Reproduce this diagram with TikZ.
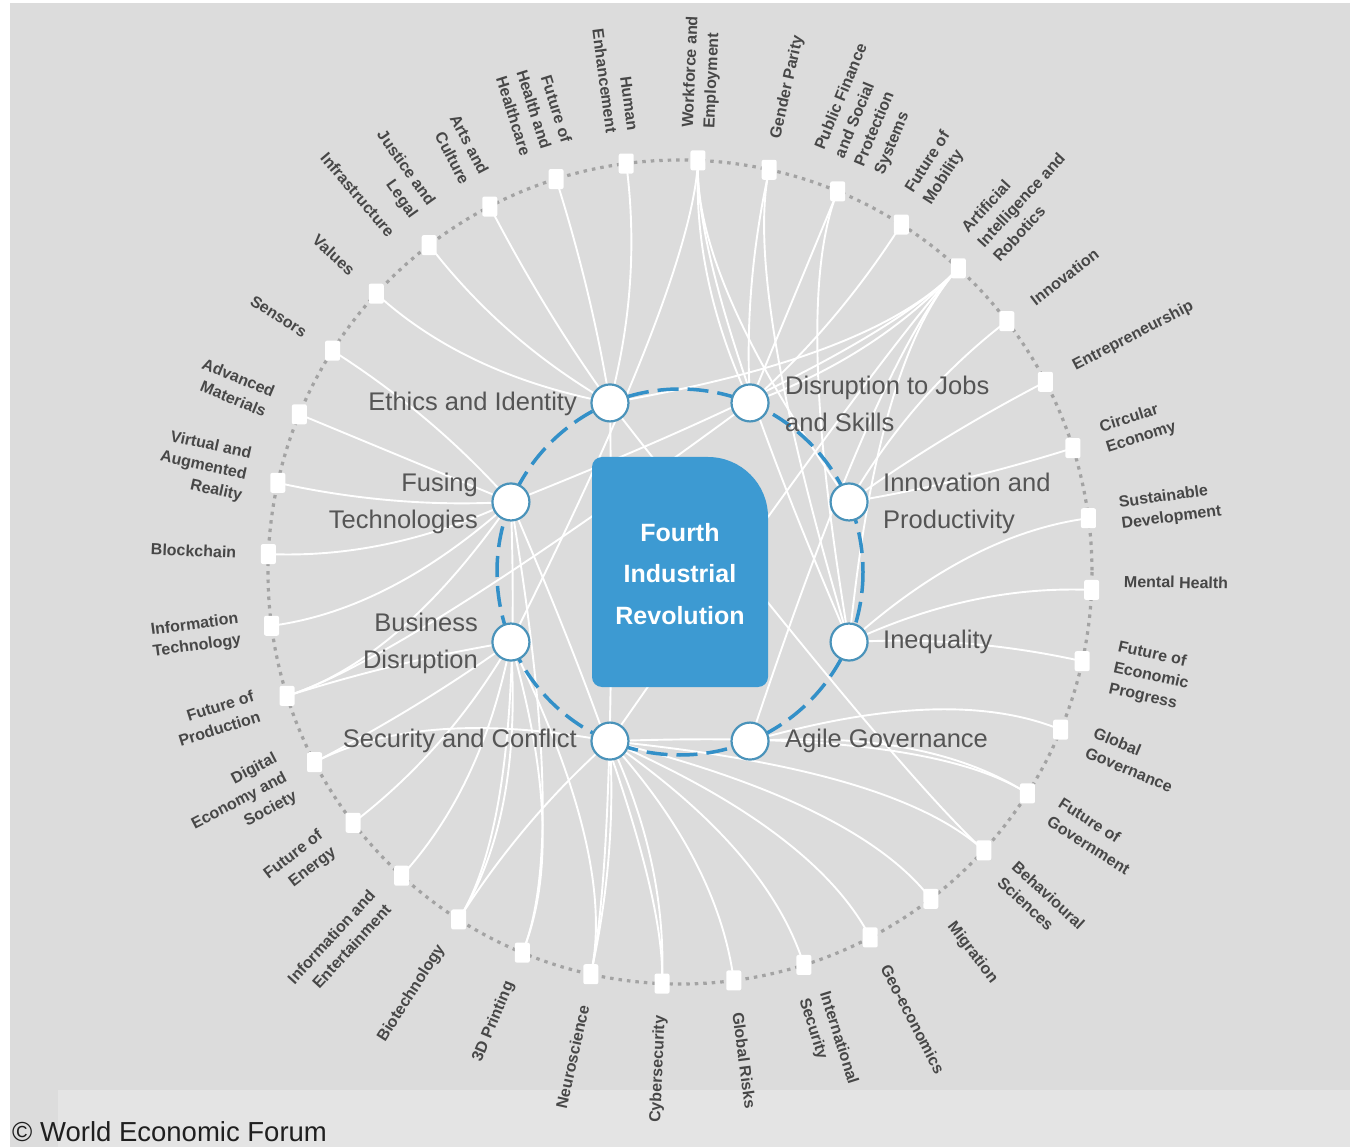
\documentclass[tikz,border=0pt]{standalone}
\usepackage{fontspec}
\setmainfont{Liberation Sans}
\usetikzlibrary{calc}
\definecolor{bggray}{HTML}{DCDCDC}
\definecolor{bandgray}{HTML}{E4E4E4}
\definecolor{dotgray}{HTML}{A3A3A3}
\definecolor{ringblue}{HTML}{3390C8}
\definecolor{hubedge}{HTML}{4A93BA}
\definecolor{boxblue}{HTML}{3D9AD2}
\definecolor{labgray}{HTML}{555555}
\definecolor{toptext}{HTML}{474747}
\pgfdeclarelayer{bg}
\pgfdeclarelayer{links}
\pgfsetlayers{bg,links,main}
\tikzset{
  hub/.style={circle, draw=hubedge, line width=2.2pt, fill=white, minimum size=37pt, inner sep=0pt},
  topic/.style={rectangle, rounded corners=2pt, fill=white, minimum width=15pt, minimum height=20pt, inner sep=0pt},
  toplabel/.style={font=\fontsize{16}{21.5}\selectfont\bfseries, text=toptext, inner sep=0pt},
  hublabel/.style={font=\fontsize{25.5}{37}\selectfont, text=labgray, inner sep=0pt},
  conn/.style={white, line width=1.9pt},
}
\begin{document}
\begin{tikzpicture}[x=1pt,y=-1pt]
\useasboundingbox (0,0) rectangle (1350,1147);
\coordinate (C) at (680,572);
\begin{pgfonlayer}{bg}
  \fill[white] (0,0) rectangle (1350,1147);
  \fill[bggray] (10,3) rectangle (1350,1147);
  \fill[bandgray] (58,1090) rectangle (1350,1147);
  \draw[dotgray, line width=3.2pt, dash pattern=on 3.5pt off 5pt] (C) circle[radius=412];
\end{pgfonlayer}

% outer topic nodes
\foreach \k in {0,...,35}{
  \pgfmathsetmacro{\ang}{2.5+10*\k}
  \node[topic] (o\k) at ({680+412*sin(\ang)},{572-412*cos(\ang)}) {};
}

% outer labels
\foreach \ang/\nm/\lab in {
  2.5/0/{Workforce and\\Employment},
  12.5/1/{Gender Parity},
  22.5/2/{Public Finance\\and Social\\Protection\\Systems},
  32.5/3/{Future of\\Mobility},
  42.5/4/{Artificial\\Intelligence and\\Robotics},
  52.5/5/{Innovation},
  62.5/6/{Entrepreneurship},
  72.5/7/{Circular\\Economy},
  82.5/8/{Sustainable\\Development},
  91.2/9/{Mental Health},
  102.5/10/{Future of\\Economic\\Progress},
  112.5/11/{Global\\Governance},
  122.5/12/{Future of\\Government},
  132.5/13/{Behavioural\\Sciences},
  142.5/14/{Migration},
  152.5/15/{Geo-economics},
  162.5/16/{International\\Security},
  172.5/17/{Global Risks},
  182.5/18/{Cybersecurity},
  192.5/19/{Neuroscience},
  202.5/20/{3D Printing},
  212.5/21/{Biotechnology},
  222.5/22/{Information and\\Entertainment},
  232.5/23/{Future of\\Energy},
  242.5/24/{Digital\\Economy and\\Society},
  252.5/25/{Future of\\Production},
  262.5/26/{Information\\Technology},
  272.5/27/{Blockchain},
  282.5/28/{Virtual and\\Augmented\\Reality},
  292.5/29/{Advanced\\Materials},
  302.5/30/{Sensors},
  312.5/31/{Values},
  319.5/32/{Infrastructure},
  324.5/33/{Justice and\\Legal},
  332.5/34/{Arts and\\Culture},
  342.5/35/{Future of\\Health and\\Healthcare},
  352.5/36/{Human\\Enhancement}}{
  \ifdim \ang pt<180pt
    \pgfmathsetmacro{\rr}{90-\ang}
    \node[toplabel, anchor=west, align=left, rotate=\rr] (lab\nm) at ({680+444*sin(\ang)},{572-444*cos(\ang)}) {\lab};
  \else
    \pgfmathsetmacro{\rr}{270-\ang}
    \node[toplabel, anchor=east, align=right, rotate=\rr] (lab\nm) at ({680+444*sin(\ang)},{572-444*cos(\ang)}) {\lab};
  \fi
}

% inner dashed ring
\draw[ringblue, line width=3.5pt, dash pattern=on 21pt off 9pt] (C) circle[radius=183];

% hubs
\node[hub] (ethics) at ({680+183*sin(337.5)},{572-183*cos(337.5)}) {};
\node[hub] (jobs)   at ({680+183*sin(22.5)},{572-183*cos(22.5)}) {};
\node[hub] (innov)  at ({680+183*sin(67.5)},{572-183*cos(67.5)}) {};
\node[hub] (ineq)   at ({680+183*sin(112.5)},{572-183*cos(112.5)}) {};
\node[hub] (agile)  at ({680+183*sin(157.5)},{572-183*cos(157.5)}) {};
\node[hub] (secur)  at ({680+183*sin(202.5)},{572-183*cos(202.5)}) {};
\node[hub] (busin)  at ({680+183*sin(247.5)},{572-183*cos(247.5)}) {};
\node[hub] (fusing) at ({680+183*sin(292.5)},{572-183*cos(292.5)}) {};

% hub labels
\node[hublabel, anchor=east, align=right] (tethics) at (577,404) {Ethics and Identity};
\node[hublabel, anchor=west, align=left] (tjobs) at (785,404) {Disruption to Jobs\\and Skills};
\node[hublabel, anchor=west, align=left] (tinnov) at (883,503) {Innovation and\\Productivity};
\node[hublabel, anchor=west, align=left] (tineq) at (883,642) {Inequality};
\node[hublabel, anchor=west, align=left] (tagile) at (785,741) {Agile Governance};
\node[hublabel, anchor=east, align=right] (tsecur) at (577,741) {Security and Conflict};
\node[hublabel, anchor=east, align=right] (tbusin) at (478,643) {Business\\Disruption};
\node[hublabel, anchor=east, align=right] (tfusing) at (478,503) {Fusing\\Technologies};

% central box
\fill[boxblue] (602,457) -- (708,457) .. controls (741.1,457) and (768,483.9) .. (768,517)
  -- (768,677) .. controls (768,682.5) and (763.5,687) .. (758,687)
  -- (602,687) .. controls (596.5,687) and (592,682.5) .. (592,677)
  -- (592,467) .. controls (592,461.5) and (596.5,457) .. (602,457) -- cycle;
\node[font=\fontsize{25}{41.5}\selectfont\bfseries, text=white, align=center, inner sep=0pt] (core) at (680,574) {Fourth\\Industrial\\Revolution};

% copyright
\node[anchor=base west, font=\fontsize{27.5}{30}\selectfont, text=black!88, inner sep=0pt] (copy) at (12,1141) {\textcopyright{} World Economic Forum};

% connectors
\begin{pgfonlayer}{links}
\foreach \o/\h in {
  0/jobs, 0/innov, 0/ineq, 0/busin,
  1/jobs, 1/ineq,
  2/jobs, 2/ineq,
  3/jobs,
  4/jobs, 4/ethics, 4/fusing, 4/ineq, 4/agile, 4/secur,
  5/innov, 6/innov, 7/innov,
  8/ineq, 9/ineq, 10/ineq,
  11/agile,
  12/agile, 12/secur,
  13/ethics, 13/secur,
  14/secur, 15/secur, 16/secur, 17/secur,
  18/secur, 18/fusing,
  19/secur, 19/ethics, 19/busin,
  20/busin, 20/fusing,
  21/fusing, 21/secur, 21/busin,
  22/busin, 23/busin,
  24/busin, 24/secur,
  25/busin, 25/fusing, 25/jobs,
  26/fusing, 27/fusing, 28/fusing, 29/fusing, 30/fusing,
  31/ethics, 32/ethics, 33/ethics, 34/ethics, 35/ethics}{
  \coordinate (p) at ($(C)!0.72!(o\o.center)$);
  \draw[conn] (o\o.center) .. controls (p) and ($(\h.center)!0.3!(p)$) .. (\h.center);
}
\end{pgfonlayer}
\end{tikzpicture}
\end{document}
